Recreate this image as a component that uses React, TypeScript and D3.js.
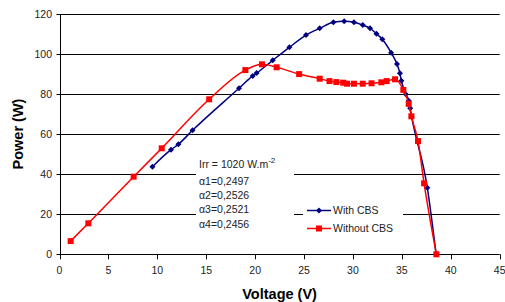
import React from 'react';
import * as d3 from 'd3';

// With CBS (voltage V, power W)
const withV = [9.5, 11.4, 12.15, 13.6, 18.35, 19.75, 20.15, 21.8, 23.5, 25.2, 26.6, 28.0, 29.1, 30.1, 31.0, 31.75, 32.4, 33.0, 33.9, 34.5, 34.8, 34.95, 35.4, 35.7, 35.85, 36.0, 37.6, 38.5];
const withP = [43.8, 52.3, 55, 62, 83, 89.2, 90.6, 97, 103.5, 109.6, 113, 116, 116.5, 116, 114.6, 113, 110.3, 107.5, 100.8, 95.1, 90.5, 86.8, 80, 76.8, 73, 68.8, 33.3, 0];

// Without CBS
const withoutV = [1.14, 2.95, 7.58, 10.45, 15.3, 19.0, 20.7, 22.2, 24.5, 26.6, 27.6, 28.3, 29.0, 29.4, 30.1, 31.0, 31.9, 32.9, 33.45, 34.3, 35.15, 35.7, 35.97, 36.65, 37.27, 38.53];
const withoutP = [6.6, 15.5, 38.8, 53, 77.5, 92.1, 95, 93.5, 90.1, 87.8, 86.6, 86.1, 85.8, 85.3, 85.3, 85.3, 85.5, 86, 86.6, 87.5, 82.2, 75.2, 69, 56.6, 35.5, 0];

const xTicks = [0, 5, 10, 15, 20, 25, 30, 35, 40, 45];
const yTicks = [0, 20, 40, 60, 80, 100, 120];
const notes = ['α1=0,2497', 'α2=0,2526', 'α3=0,2521', 'α4=0,2456'];
const seriesNames = ['With CBS', 'Without CBS'];

const W = 505, H = 302;
const left = 59.5, right = 499.7, top = 14.3, bottom = 254.3;
const font = '"Liberation Sans", Arial, sans-serif';

export default function App() {
  const x = d3.scaleLinear().domain([0, 45]).range([left, right]);
  const y = d3.scaleLinear().domain([0, 120]).range([bottom, top]);
  const line = d3.line<[number, number]>()
    .x(d => x(d[0])).y(d => y(d[1]))
    .curve(d3.curveMonotoneX);

  const blue: [number, number][] = withV.map((v, i) => [v, withP[i]]);
  const red: [number, number][] = withoutV.map((v, i) => [v, withoutP[i]]);
  const snap = (v: number) => Math.round(v) + 0.5;

  const diamond = (cx: number, cy: number, k: string | number) => (
    <path key={k} d={`M${cx},${cy - 3}L${cx + 3},${cy}L${cx},${cy + 3}L${cx - 3},${cy}Z`} fill="#000080" />
  );
  const square = (cx: number, cy: number, k: string | number) => (
    <rect key={k} x={cx - 3} y={cy - 3} width={6} height={6} fill="#ff0000" />
  );

  return (
    <svg width={W} height={H} style={{ position: 'absolute', left: 0, top: 0, background: '#fff' }} fontFamily={font}>
      {/* grid */}
      {yTicks.filter(t => t > 0).map(t => (
        <line key={t} x1={left - 3} x2={right} y1={snap(y(t))} y2={snap(y(t))} stroke="#000" strokeWidth={1} />
      ))}
      {/* axes */}
      <line x1={snap(left)} x2={snap(left)} y1={top} y2={bottom + 1} stroke="#000" />
      <line x1={left - 3} x2={right} y1={snap(bottom)} y2={snap(bottom)} stroke="#000" />
      {xTicks.map(t => (
        <line key={t} x1={snap(x(t))} x2={snap(x(t))} y1={bottom} y2={bottom + 5} stroke="#000" />
      ))}
      {yTicks.map(t => (
        <text key={t} x={52} y={y(t) + 4} textAnchor="end" fontSize={10.5} fill="#222">{t}</text>
      ))}
      {xTicks.map(t => (
        <text key={t} x={x(t)} y={274} textAnchor="middle" fontSize={10.5} fill="#222">{t}</text>
      ))}
      <text x={279.6} y={299} textAnchor="middle" fontSize={14.5} fontWeight="bold">Voltage (V)</text>
      <text transform={`translate(23,134) rotate(-90)`} textAnchor="middle" fontSize={14.5} fontWeight="bold">Power (W)</text>

      {/* annotation box */}
      <rect x={196} y={152} width={98} height={80} fill="#fff" />
      <text x={199} y={168} fontSize={10.5} fill="#222">Irr = 1020 W.m<tspan dy={-5} fontSize={8}>-2</tspan></text>
      {notes.map((n, i) => (
        <text key={n} x={199} y={185 + i * 14.2} fontSize={10.5} fill="#222">{n}</text>
      ))}

      {/* series */}
      <path d={line(blue) || ''} fill="none" stroke="#000080" strokeWidth={1.5} />
      {blue.map((d, i) => diamond(x(d[0]), y(d[1]), 'b' + i))}
      <path d={line(red) || ''} fill="none" stroke="#ff0000" strokeWidth={1.5} />
      {red.map((d, i) => square(x(d[0]), y(d[1]), 'r' + i))}

      {/* legend */}
      <rect x={303} y={200} width={100} height={38} fill="#fff" />
      <line x1={307} x2={331} y1={210.5} y2={210.5} stroke="#000080" strokeWidth={1.5} />
      {diamond(319, 210.5, 'lb')}
      <text x={333} y={214} fontSize={10.5} fill="#222">{seriesNames[0]}</text>
      <line x1={307} x2={331} y1={228.5} y2={228.5} stroke="#ff0000" strokeWidth={1.5} />
      {square(319, 228.5, 'lr')}
      <text x={333} y={232} fontSize={10.5} fill="#222">{seriesNames[1]}</text>
    </svg>
  );
}
